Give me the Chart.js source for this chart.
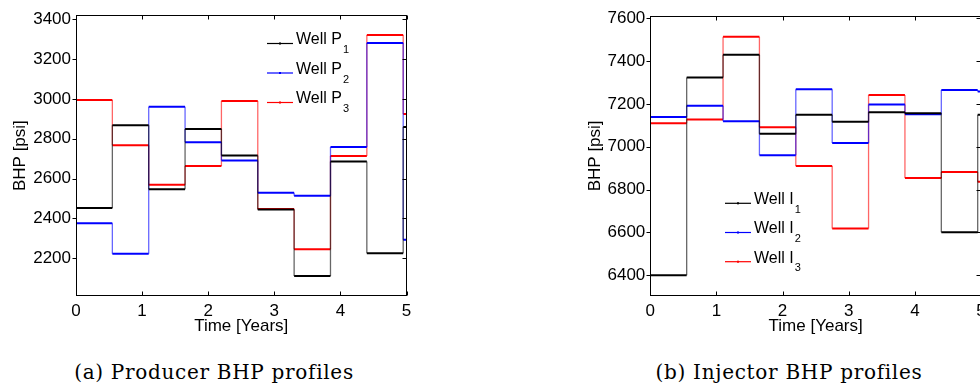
<!DOCTYPE html>
<html><head><meta charset="utf-8">
<script src="https://cdn.jsdelivr.net/npm/chart.js@4/dist/chart.umd.min.js"></script>
<style>
html,body{margin:0;padding:0;background:#fff;width:980px;height:386px;overflow:hidden;position:relative}
canvas{position:absolute;top:0}
#ca{left:0}
#cb{left:560px}
.cap{position:absolute;font-family:"DejaVu Serif";font-size:20px;line-height:20px;white-space:nowrap;color:#000;transform:translateX(-50%);letter-spacing:0.7px}
</style></head><body>
<canvas id="ca" width="440" height="340"></canvas>
<canvas id="cb" width="440" height="340"></canvas>
<div class="cap" style="left:214px;top:362px">(a) Producer BHP profiles</div>
<div class="cap" style="left:789px;top:362px">(b) Injector BHP profiles</div>
<script>
// ---- data ----
const stepStarts = [0, 0.55, 1.1, 1.65, 2.2, 2.75, 3.3, 3.85, 4.4, 4.95];
const endTime = 5;
const xTicks = [0, 1, 2, 3, 4, 5];

const producerLabels = ['Well P_1', 'Well P_2', 'Well P_3'];
const wellP1 = [2452, 2867, 2546, 2848, 2715, 2444, 2110, 2686, 2225, 2858];
const wellP2 = [2375, 2222, 2960, 2782, 2691, 2528, 2514, 2758, 3281, 2292];
const wellP3 = [2994, 2767, 2568, 2663, 2989, 2447, 2245, 2713, 3320, 2924];
const producerTicks = [2200, 2400, 2600, 2800, 3000, 3200, 3400];

const injectorLabels = ['Well I_1', 'Well I_2', 'Well I_3'];
const wellI1 = [6400, 7323, 7430, 7061, 7149, 7117, 7161, 7156, 6601, 7149];
const wellI2 = [7139, 7191, 7119, 6960, 7268, 7018, 7197, 7152, 7265, 7258];
const wellI3 = [7110, 7127, 7514, 7091, 6910, 6618, 7242, 6854, 6882, 6836];
const injectorTicks = [6400, 6600, 6800, 7000, 7200, 7400, 7600];

const seriesColors = ['#000000', '#0000ff', '#ff0000'];
const verticalColors = ['rgba(0,0,0,0.6)', 'rgba(0,0,255,0.6)', 'rgba(255,0,0,0.6)'];

// ---- build step points from the arrays ----
function stepPoints(vals) {
  const pts = [];
  for (let i = 0; i < vals.length; i++) {
    const t0 = stepStarts[i];
    const t1 = i + 1 < stepStarts.length ? stepStarts[i + 1] : endTime;
    pts.push({x: t0, y: vals[i]});
    pts.push({x: t1, y: vals[i]});
  }
  return pts;
}

const FONT = 'Liberation Sans';

function makeDatasets(labels, series) {
  return series.map((vals, i) => ({
    label: labels[i],
    data: stepPoints(vals),
    borderColor: seriesColors[i],
    borderWidth: 2,
    pointRadius: 0,
    tension: 0,
    segment: {
      borderWidth: c => (c.p0.parsed.x === c.p1.parsed.x ? 1.3 : 2),
      borderColor: c => (c.p0.parsed.x === c.p1.parsed.x ? verticalColors[i] : seriesColors[i])
    }
  }));
}

const framePlugin = {
  id: 'frame',
  afterDatasetsDraw(chart) {
    const {ctx, chartArea, scales} = chart;
    const L = Math.round(chartArea.left) + 0.5;
    const R = Math.round(chartArea.right) - 0.5;
    const T = Math.round(chartArea.top) + 0.5;
    const B = Math.round(chartArea.bottom) - 0.5;
    ctx.save();
    ctx.strokeStyle = '#000';
    ctx.lineWidth = 1;
    ctx.strokeRect(L, T, R - L, B - T);
    ctx.beginPath();
    scales.y.ticks.forEach(t => {
      const py = Math.round(scales.y.getPixelForValue(t.value)) + 0.5;
      ctx.moveTo(L - 4, py); ctx.lineTo(L, py);
      ctx.moveTo(R, py); ctx.lineTo(R - 4, py);
    });
    scales.x.ticks.forEach(t => {
      const px = Math.round(scales.x.getPixelForValue(t.value)) + 0.5;
      ctx.moveTo(px, T); ctx.lineTo(px, T + 4);
      ctx.moveTo(px, B); ctx.lineTo(px, B - 4);
    });
    ctx.stroke();
    ctx.restore();
  },
  afterDraw(chart, args, opts) {
    const {ctx, chartArea} = chart;
    ctx.save();
    chart.data.datasets.forEach((ds, i) => {
      const y = chartArea.top + opts.dy + i * opts.gap;
      const lx = chartArea.left + opts.dx;
      ctx.strokeStyle = ds.borderColor;
      ctx.lineWidth = 1.2;
      ctx.beginPath();
      ctx.moveTo(lx, y); ctx.lineTo(lx + 26, y);
      ctx.stroke();
      ctx.fillStyle = ds.borderColor;
      ctx.fillRect(lx + 12, y - 1, 2, 2);
      const [base, sub] = ds.label.split('_');
      ctx.fillStyle = '#000';
      ctx.textBaseline = 'middle';
      ctx.textAlign = 'left';
      ctx.font = '16px "' + FONT + '"';
      const tx = lx + 29;
      ctx.fillText(base, tx, y - 3.5);
      const w = ctx.measureText(base).width;
      ctx.font = '11px "' + FONT + '"';
      ctx.fillText(sub, tx + w + 1, y + 6.5);
    });
    ctx.restore();
  }
};

function makeChart(id, labels, series, yMin, yMax, yTicks, cfg) {
  new Chart(document.getElementById(id), {
    type: 'line',
    data: {datasets: makeDatasets(labels, series)},
    options: {
      responsive: false,
      animation: false,
      devicePixelRatio: 1,
      layout: {padding: {left: 0, top: cfg.top, right: cfg.right, bottom: 0}},
      plugins: {
        legend: {display: false},
        tooltip: {enabled: false},
        frame: cfg.legend
      },
      scales: {
        x: {
          type: 'linear', min: 0, max: 5,
          afterBuildTicks: s => { s.ticks = xTicks.map(v => ({value: v})); },
          afterFit: s => { s.height = 44; },
          grid: {display: false, drawTicks: false},
          border: {display: false},
          ticks: {font: {family: FONT, size: 17}, color: '#000', padding: 5, maxRotation: 0, autoSkip: false,
                  callback: v => String(v)},
          title: {display: true, text: 'Time [Years]', color: '#000', font: {family: FONT, size: 17}, padding: {top: 0, bottom: 3}}
        },
        y: {
          type: 'linear', min: yMin, max: yMax,
          afterBuildTicks: s => { s.ticks = yTicks.map(v => ({value: v})); },
          afterFit: s => { s.width = cfg.yWidth; },
          grid: {display: false, drawTicks: false},
          border: {display: false},
          ticks: {font: {family: FONT, size: 17}, color: '#000', padding: 5, autoSkip: false,
                  callback: v => String(v)},
          title: {display: true, text: 'BHP [psi]', color: '#000', font: {family: FONT, size: 17}, padding: {top: cfg.titlePad, bottom: 0}}
        }
      }
    },
    plugins: [framePlugin]
  });
}

makeChart('ca', producerLabels, [wellP1, wellP2, wellP3], 2010, 3420, producerTicks,
  {top: 15, right: 33.5, yWidth: 76, titlePad: 10, legend: {dx: 191, dy: 28.3, gap: 29.5}});
makeChart('cb', injectorLabels, [wellI1, wellI2, wellI3], 6303, 7612, injectorTicks,
  {top: 15.7, right: 19, yWidth: 90.3, titlePad: 25, legend: {dx: 74.7, dy: 187.6, gap: 29.2}});
</script>
</body></html>
